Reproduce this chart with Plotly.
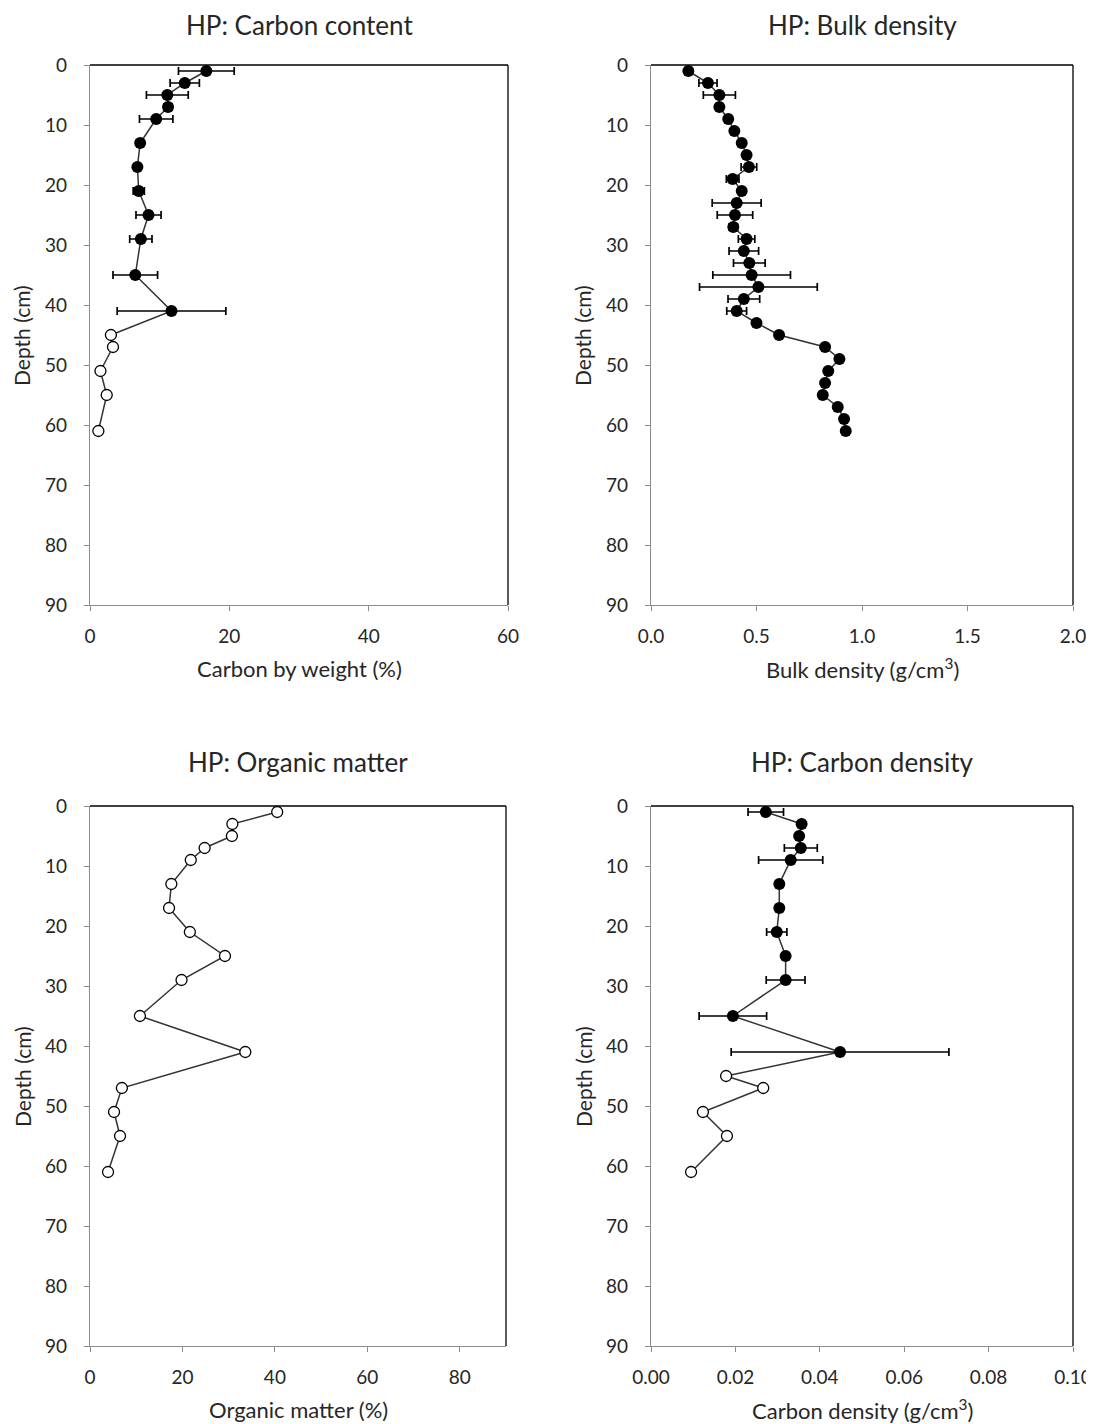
import plotly.graph_objects as go

# ---------------- data ----------------
# Panel 1: Carbon content (% by weight)
cc_depth_filled = [1, 3, 5, 7, 9, 13, 17, 21, 25, 29, 35, 41]
cc_val_filled = [16.7, 13.6, 11.1, 11.2, 9.5, 7.2, 6.8, 7.0, 8.4, 7.3, 6.5, 11.7]
cc_err_filled = [4.0, 2.1, 3.0, 0.6, 2.4, 0.5, 0.5, 0.8, 1.8, 1.6, 3.2, 7.8]
cc_depth_open = [45, 47, 51, 55, 61]
cc_val_open = [3.0, 3.3, 1.5, 2.4, 1.2]

# Panel 2: Bulk density (g/cm3)
bd_depth = [1, 3, 5, 7, 9, 11, 13, 15, 17, 19, 21, 23, 25, 27, 29, 31, 33, 35, 37, 39, 41,
            43, 45, 47, 49, 51, 53, 55, 57, 59, 61]
bd_val = [0.177, 0.27, 0.324, 0.324, 0.366, 0.395, 0.43, 0.453, 0.464, 0.387, 0.43, 0.406,
          0.398, 0.39, 0.453, 0.44, 0.466, 0.477, 0.509, 0.44, 0.406,
          0.50, 0.607, 0.825, 0.893, 0.84, 0.825, 0.814, 0.885, 0.915, 0.923]
bd_err = [0.0, 0.043, 0.076, 0.015, 0.0, 0.0, 0.0, 0.0, 0.037, 0.03, 0.0, 0.116,
          0.084, 0.02, 0.039, 0.07, 0.075, 0.184, 0.279, 0.075, 0.047,
          0.0, 0.0, 0.0, 0.0, 0.0, 0.0, 0.0, 0.0, 0.0, 0.0]

# Panel 3: Organic matter (%)
om_depth = [1, 3, 5, 7, 9, 13, 17, 21, 25, 29, 35, 41, 47, 51, 55, 61]
om_val = [40.5, 30.8, 30.7, 24.8, 21.8, 17.6, 17.1, 21.6, 29.2, 19.8, 10.8, 33.6,
          6.9, 5.2, 6.5, 3.9]

# Panel 4: Carbon density (g/cm3)
cd_depth_filled = [1, 3, 5, 7, 9, 13, 17, 21, 25, 29, 35, 41]
cd_val_filled = [0.0272, 0.0357, 0.0351, 0.0355, 0.0331, 0.0304, 0.0304, 0.0298, 0.0319,
                 0.0319, 0.0194, 0.0448]
cd_err_filled = [0.0042, 0.0005, 0.0005, 0.0039, 0.0076, 0.0008, 0.0005, 0.0024, 0.0003,
                 0.0046, 0.008, 0.0258]
cd_depth_open = [45, 47, 51, 55, 61]
cd_val_open = [0.0178, 0.0266, 0.0123, 0.018, 0.0095]

titles = ["HP: Carbon content", "HP: Bulk density", "HP: Organic matter", "HP: Carbon density"]
x_titles = ["Carbon by weight (%)", "Bulk density (g/cm<sup>3</sup>)",
            "Organic matter (%)", "Carbon density (g/cm<sup>3</sup>)"]
y_title = "Depth (cm)"
y_ticks = [0, 10, 20, 30, 40, 50, 60, 70, 80, 90]

FONT = "Lato, Open Sans, sans-serif"
LINE_C = "#333333"
AX_C = "#8c8c8c"
TXT_C = "#262626"

fig = go.Figure()

# the page body has an 8px margin, so the figure is placed at (8, 8) in the window
OFF = 8
W, H = 1094 - OFF, 1424 - OFF
def xd(a, b):
    return [(a - OFF) / W, (b - OFF) / W]
def yd(top, bot):
    return [(H - (bot - OFF)) / H, (H - (top - OFF)) / H]

panels = [
    dict(xa="x", ya="y", xdom=xd(90, 508), ydom=yd(65, 605), xr=[0, 60], dt=20, fmt=None),
    dict(xa="x2", ya="y2", xdom=xd(651, 1073), ydom=yd(65, 605), xr=[0, 2], dt=0.5, fmt=".1f"),
    dict(xa="x3", ya="y3", xdom=xd(90, 506), ydom=yd(806, 1346), xr=[0, 90], dt=20, fmt=None),
    dict(xa="x4", ya="y4", xdom=xd(651, 1073), ydom=yd(806, 1346), xr=[0, 0.1], dt=0.02, fmt=".2f"),
]

def line(xs, ys, p):
    fig.add_trace(go.Scatter(x=xs, y=ys, mode="lines", line=dict(color=LINE_C, width=1.5),
                             xaxis=p["xa"], yaxis=p["ya"], showlegend=False, hoverinfo="skip"))

def filled(xs, ys, errs, p, size=12):
    fig.add_trace(go.Scatter(x=xs, y=ys, mode="markers",
                             marker=dict(color="black", size=size, symbol="circle"),
                             error_x=dict(type="data", array=errs, visible=True, color="black",
                                          thickness=1.7, width=4),
                             xaxis=p["xa"], yaxis=p["ya"], showlegend=False))

def opened(xs, ys, p, size=11):
    fig.add_trace(go.Scatter(x=xs, y=ys, mode="markers",
                             marker=dict(color="white", size=size, symbol="circle",
                                         line=dict(color="black", width=1.3)),
                             xaxis=p["xa"], yaxis=p["ya"], showlegend=False))

# Panel 1
p = panels[0]
line(cc_val_filled + cc_val_open, cc_depth_filled + cc_depth_open, p)
filled(cc_val_filled, cc_depth_filled, cc_err_filled, p)
opened(cc_val_open, cc_depth_open, p)

# Panel 2
p = panels[1]
line(bd_val, bd_depth, p)
filled(bd_val, bd_depth, bd_err, p)

# Panel 3
p = panels[2]
line(om_val, om_depth, p)
opened(om_val, om_depth, p)

# Panel 4
p = panels[3]
line(cd_val_filled + cd_val_open, cd_depth_filled + cd_depth_open, p)
filled(cd_val_filled, cd_depth_filled, cd_err_filled, p)
opened(cd_val_open, cd_depth_open, p)

layout = dict(width=W, height=H, margin=dict(l=0, r=0, t=0, b=0, autoexpand=False),
              paper_bgcolor="white", plot_bgcolor="white",
              font=dict(family=FONT, color=TXT_C))
annotations = []
shapes = []
for i, p in enumerate(panels):
    suf = "" if i == 0 else str(i + 1)
    layout["xaxis" + suf] = dict(
        domain=p["xdom"], range=p["xr"], dtick=p["dt"], tick0=0, anchor=p["ya"],
        showgrid=False, zeroline=False, showline=True, linecolor=AX_C, linewidth=1.2,
        ticks="outside", ticklen=5, tickcolor=AX_C, tickformat=p["fmt"],
        ticklabelstandoff=9, automargin=False,
        tickfont=dict(size=19, color=TXT_C, family=FONT), fixedrange=True)
    layout["yaxis" + suf] = dict(
        domain=p["ydom"], range=[90, 0], tickvals=y_ticks, anchor=p["xa"],
        showgrid=False, zeroline=False, showline=True, linecolor=AX_C, linewidth=1.2,
        ticks="outside", ticklen=5, tickcolor=AX_C, ticklabelstandoff=13, automargin=False,
        tickfont=dict(size=19, color=TXT_C, family=FONT), fixedrange=True)
    xref = p["xa"] + " domain"
    yref = p["ya"] + " domain"
    shapes.append(dict(type="line", xref=xref, yref=yref, x0=0, x1=1, y0=1, y1=1,
                       line=dict(color="black", width=1.6)))
    shapes.append(dict(type="line", xref=xref, yref=yref, x0=1, x1=1, y0=0, y1=1,
                       line=dict(color="black", width=1.3)))
    cx = (p["xdom"][0] + p["xdom"][1]) / 2
    cy = (p["ydom"][0] + p["ydom"][1]) / 2
    # panel title (top row is held inside the figure's upper edge)
    if i < 2:
        annotations.append(dict(text=titles[i], xref="paper", yref="paper", x=cx,
                                y=1.0, xanchor="center", yanchor="top", borderpad=0,
                                showarrow=False, font=dict(size=26, color=TXT_C, family=FONT)))
    else:
        annotations.append(dict(text=titles[i], xref="paper", yref="paper", x=cx,
                                y=p["ydom"][1] + 44 / H, xanchor="center", yanchor="middle",
                                borderpad=0, showarrow=False,
                                font=dict(size=26, color=TXT_C, family=FONT)))
    # x-axis title
    annotations.append(dict(text=x_titles[i], xref="paper", yref="paper", x=cx,
                            y=p["ydom"][0] - 63 / H, xanchor="center", yanchor="middle",
                            showarrow=False, font=dict(size=22, color=TXT_C, family=FONT)))
    # y-axis title
    annotations.append(dict(text=y_title, xref="paper", yref="paper",
                            x=p["xdom"][0] - 68 / W, y=cy, xanchor="center", yanchor="middle",
                            textangle=-90, showarrow=False,
                            font=dict(size=21, color=TXT_C, family=FONT)))
layout["annotations"] = annotations
layout["shapes"] = shapes
fig.update_layout(**layout)

fig.write_html("out.html")
